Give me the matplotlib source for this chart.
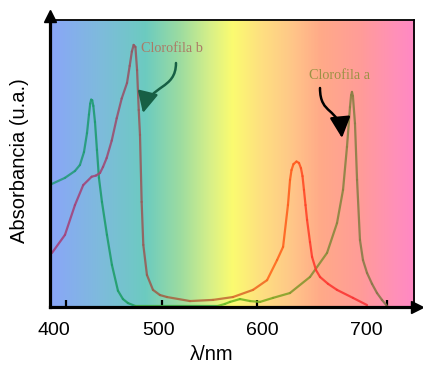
import numpy as np
import matplotlib
matplotlib.use('Agg')
import matplotlib.pyplot as plt
from matplotlib.collections import LineCollection
from matplotlib.colors import LinearSegmentedColormap
from matplotlib.patches import FancyArrowPatch
from matplotlib.path import Path

# Clorofila a (left peak + right peak)
chl_a_nm = [397.7, 410.2, 419.8, 424.6, 428.5, 431.4, 433.3, 434.5, 435.4, 436.4,
            437.5, 439.1, 441.0, 442.9, 445.8, 450.6, 455.4, 461.2, 466.0, 470.8,
            477.6, 557.5, 564.2, 569.0, 578.6, 588.3, 597.9, 610.4, 626.7, 646.0,
            662.4, 672.0, 677.8, 681.6, 684.5, 685.6, 686.4, 687.3, 689.3, 691.3,
            694.1, 697.0, 700.9, 705.7, 710.5, 715.3, 720.1]
chl_a_abs = [0.428, 0.449, 0.473, 0.494, 0.539, 0.605, 0.670, 0.708, 0.722, 0.720,
             0.700, 0.644, 0.546, 0.449, 0.365, 0.250, 0.145, 0.055, 0.026, 0.012,
             0.002, 0.002, 0.009, 0.016, 0.026, 0.019, 0.016, 0.030, 0.047, 0.103,
             0.187, 0.291, 0.407, 0.557, 0.696, 0.738, 0.749, 0.735, 0.639, 0.442,
             0.232, 0.162, 0.117, 0.079, 0.047, 0.023, 0.002]

# Clorofila b
chl_b_nm = [397.7, 410.2, 419.8, 427.8, 435.9, 440.0, 443.9, 446.8, 450.3, 455.2,
            460.0, 464.8, 469.9, 472.5, 474.6, 476.3, 478.0, 479.6, 481.2, 482.4,
            484.0, 485.6, 489.1, 494.9, 501.6, 508.4, 530.5, 552.7, 571.9, 591.2,
            604.7, 614.3, 620.1, 624.8, 626.8, 628.2, 630.1, 633.0, 635.4, 637.3,
            638.8, 640.2, 641.7, 643.2, 646.0, 648.0, 651.8, 655.7, 663.4, 672.0,
            687.4, 700.9]
chl_b_abs = [0.187, 0.250, 0.354, 0.424, 0.453, 0.457, 0.466, 0.487, 0.518, 0.579,
             0.657, 0.726, 0.780, 0.840, 0.890, 0.913, 0.906, 0.825, 0.686, 0.599,
             0.365, 0.215, 0.110, 0.058, 0.040, 0.033, 0.019, 0.023, 0.033, 0.058,
             0.092, 0.162, 0.208, 0.354, 0.442, 0.476, 0.497, 0.506, 0.501, 0.483,
             0.455, 0.407, 0.354, 0.302, 0.225, 0.173, 0.127, 0.103, 0.079, 0.058,
             0.030, 0.005]

xticks = [400, 500, 600, 700]
tick_marks = [411.2, 503.6, 595.0, 720.1]
tick_mark_colors = ['#2f4f9a', '#1f5f3f', '#5f5a20', '#8a2a60']
xmin, xmax = 395.8, 746.1

fig = plt.figure(figsize=(4.23, 3.67), dpi=100)
ax = fig.add_axes([50 / 423, 60.5 / 367, 364 / 423, 286.5 / 367])
ax.set_xlim(xmin, xmax)
ax.set_ylim(0, 1)

# rainbow background
bg = LinearSegmentedColormap.from_list('bg', [
    (0.0, '#8aa6f8'), (0.137, '#7ebbdc'), (0.261, '#6ccbc0'), (0.357, '#9ddca0'),
    (0.44, '#d8f088'), (0.5, '#fbfb70'), (0.577, '#fee080'), (0.659, '#ffc888'),
    (0.742, '#ffaa88'), (0.852, '#ff9c98'), (0.948, '#ff90b8'), (1.0, '#ff88c4')])
ax.imshow(np.linspace(0, 1, 512)[None, :], cmap=bg, aspect='auto',
          extent=[xmin, xmax, 0, 1], zorder=0)


def colored_line(x, y, stops):
    x = np.asarray(x)
    y = np.asarray(y)
    pts = np.column_stack([x, y]).reshape(-1, 1, 2)
    segs = np.concatenate([pts[:-1], pts[1:]], axis=1)
    cmap = LinearSegmentedColormap.from_list('c', stops)
    mid = (x[:-1] + x[1:]) / 2
    lc = LineCollection(segs, colors=cmap((mid - xmin) / (xmax - xmin)),
                        linewidths=1.6, alpha=0.9, capstyle='round',
                        joinstyle='round', zorder=2)
    ax.add_collection(lc)


def f(nm):
    return (nm - xmin) / (xmax - xmin)


colored_line(chl_a_nm, chl_a_abs, [
    (0.0, '#2c9a86'), (f(440), '#1f9c72'), (f(480), '#20a060'),
    (f(555), '#66c228'), (f(600), '#7eb020'), (f(640), '#8a9432'),
    (f(690), '#8a7e46'), (1.0, '#8a6a50')])
colored_line(chl_b_nm, chl_b_abs, [
    (0.0, '#a5407e'), (f(445), '#a04a78'), (f(475), '#935866'),
    (f(500), '#9c6448'), (f(560), '#c07038'), (f(610), '#ff6a1e'),
    (f(634), '#ff5a1e'), (f(648), '#ff3a2e'), (1.0, '#f03040')])

# curved pointer arrows
def to_data(px, py):
    return (400 + (px - 54.4) * 0.9625, (306.5 - py) / 286.5)


pb = [to_data(*p) for p in [(176, 63), (176, 90), (150, 84), (143, 113)]]
pa = [to_data(*p) for p in [(320, 88), (320, 116), (339, 106), (342, 138)]]
for pts, col in [(pb, '#175f45'), (pa, 'black')]:
    path = Path(pts, [Path.MOVETO, Path.CURVE4, Path.CURVE4, Path.CURVE4])
    ax.add_patch(FancyArrowPatch(path=path,
                                 arrowstyle='-|>,head_length=0.85,head_width=0.42',
                                 mutation_scale=15, color=col, lw=1.8, zorder=3))

ax.text(483.0, 0.902, 'Clorofila b', family='Liberation Serif', fontsize=10.3,
        color='#ab7a66', ha='left', va='center', zorder=3)
ax.text(645.0, 0.808, 'Clorofila a', family='Liberation Serif', fontsize=10.3,
        color='#9c9244', ha='left', va='center', zorder=3)

# axes styling
for s in ['left', 'bottom']:
    ax.spines[s].set_linewidth(2.3)
for s in ['top', 'right']:
    ax.spines[s].set_linewidth(1.3)
for s in ax.spines.values():
    s.set_zorder(4)

ax.set_yticks([])
ax.set_xticks(xticks)
ax.set_xticklabels([str(t) for t in xticks], family='Liberation Sans', fontsize=14)
ax.tick_params(axis='x', which='major', length=0, pad=11)
ax.set_xticks(tick_marks, minor=True)
ax.tick_params(axis='x', which='minor', direction='in', length=5, width=1.6)
for t, c in zip(ax.xaxis.get_minor_ticks(), tick_mark_colors):
    t.tick1line.set_color(c)

ax.set_ylabel('Absorbancia (u.a.)', family='Liberation Sans', fontsize=14.5)
ax.yaxis.set_label_coords(-0.058, 0.508)
ax.set_xlabel('λ/nm', family='Liberation Sans', fontsize=14.5)
ax.xaxis.set_label_coords(0.445, -0.135)

# axis arrow heads
ax.plot([0], [1.015], marker='^', ms=9, color='black', transform=ax.transAxes,
        clip_on=False, zorder=5)
ax.plot([1.008], [0], marker='>', ms=9, color='black', transform=ax.transAxes,
        clip_on=False, zorder=5)

fig.savefig('out.png', dpi=100)
